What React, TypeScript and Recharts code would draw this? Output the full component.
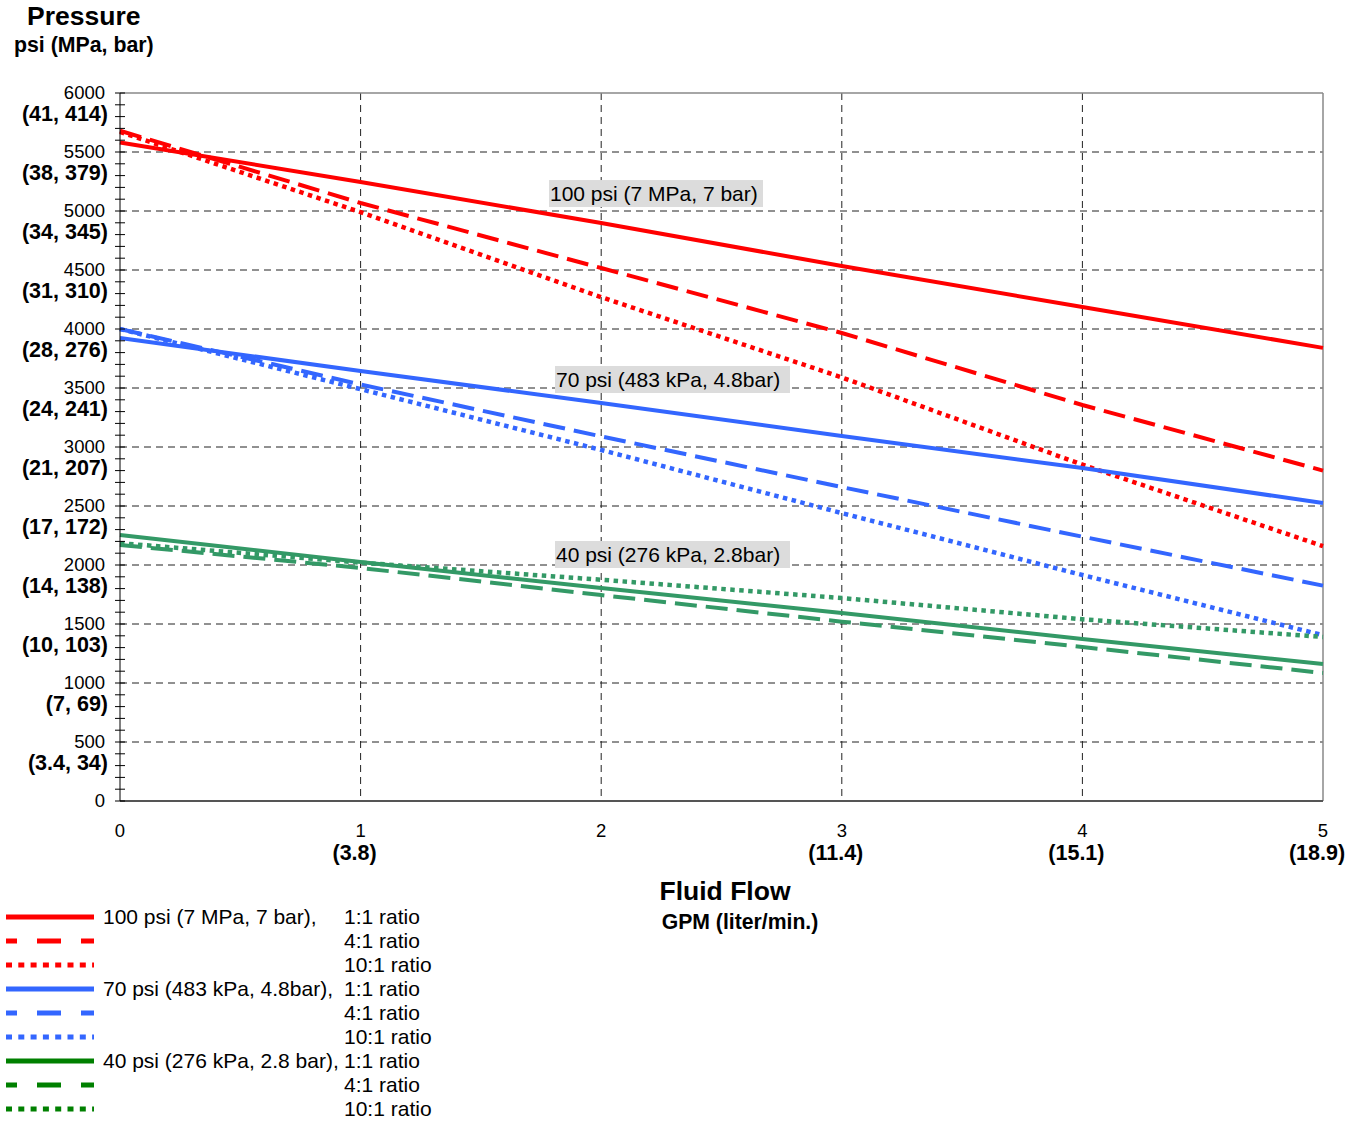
import React from 'react';
import {
  CartesianGrid,
  Line,
  LineChart,
  ReferenceDot,
  ReferenceLine,
  XAxis,
  YAxis,
} from 'recharts';

// fluid flow, GPM
const FLOW = [0, 1, 2, 3, 4, 5];

// pressure, psi
const RED_1_1 = [5580, 5246, 4898, 4534, 4186, 3840];
const RED_4_1 = [5680, 5068, 4517, 3966, 3356, 2800];
const RED_10_1 = [5670, 4990, 4270, 3590, 2850, 2160];
const BLUE_1_1 = [3924, 3644, 3373, 3093, 2822, 2525];
const BLUE_4_1 = [4000, 3530, 3090, 2660, 2240, 1825];
const BLUE_10_1 = [4000, 3490, 2975, 2440, 1915, 1405];
const GREEN_1_1 = [2254, 2025, 1805, 1593, 1373, 1161];
const GREEN_4_1 = [2170, 1975, 1745, 1520, 1305, 1085];
const GREEN_10_1 = [2185, 2020, 1875, 1720, 1540, 1390];

const Y_MAJOR = [0, 500, 1000, 1500, 2000, 2500, 3000, 3500, 4000, 4500, 5000, 5500, 6000];
const Y_METRIC = ['', '(3.4, 34)', '(7, 69)', '(10, 103)', '(14, 138)', '(17, 172)', '(21, 207)', '(24, 241)', '(28, 276)', '(31, 310)', '(34, 345)', '(38, 379)', '(41, 414)'];
const X_TICKS = [0, 1, 2, 3, 4, 5];
const X_METRIC = ['', '(3.8)', '', '(11.4)', '(15.1)', '(18.9)'];

const GROUP_LABELS = ['100 psi (7 MPa, 7 bar),', '70 psi (483 kPa, 4.8bar),', '40 psi (276 kPa, 2.8 bar),'];
const RATIO_LABELS = ['1:1 ratio', '4:1 ratio', '10:1 ratio'];

const NOTE_TEXT = ['100 psi (7 MPa, 7 bar)', '70 psi (483 kPa, 4.8bar)', '40 psi (276 kPa, 2.8bar)'];
const NOTE_FLOW = [1.783, 1.808, 1.808];
const NOTE_PSI = [5148, 3572, 2089];
const NOTE_W = [214, 235, 235];

const FONT = '"Liberation Sans", Arial, Helvetica, sans-serif';
const Y_MINOR = Array.from({ length: 61 }, (_, i) => i * 100);

const series = [
  { key: 'r1', values: RED_1_1, color: '#ff0000', legend: '#ff0000', style: 'solid' },
  { key: 'r4', values: RED_4_1, color: '#ff0000', legend: '#ff0000', style: 'dash' },
  { key: 'r10', values: RED_10_1, color: '#ff0000', legend: '#ff0000', style: 'dot' },
  { key: 'b1', values: BLUE_1_1, color: '#3366ff', legend: '#3366ff', style: 'solid' },
  { key: 'b4', values: BLUE_4_1, color: '#3366ff', legend: '#3366ff', style: 'dash' },
  { key: 'b10', values: BLUE_10_1, color: '#3366ff', legend: '#3366ff', style: 'dot' },
  { key: 'g1', values: GREEN_1_1, color: '#339966', legend: '#008000', style: 'solid' },
  { key: 'g4', values: GREEN_4_1, color: '#339966', legend: '#008000', style: 'dash' },
  { key: 'g10', values: GREEN_10_1, color: '#339966', legend: '#008000', style: 'dot' },
];

const dashes: Record<string, string | undefined> = { solid: undefined, dash: '22 9', dot: '4.5 4.5' };
const widths: Record<string, number> = { solid: 4, dash: 4, dot: 4.5 };

const data = FLOW.map((flow, i) => {
  const row: Record<string, number> = { flow };
  series.forEach((s) => {
    row[s.key] = s.values[i];
  });
  return row;
});

function YTick(props: any) {
  const { x, y, payload } = props;
  const v = payload.value as number;
  const idx = Y_MAJOR.indexOf(v);
  return (
    <g>
      <line x1={x - 5} x2={x + 5} y1={y} y2={y} stroke="#000" strokeWidth={1} />
      {idx >= 0 && (
        <>
          <text x={x - 15} y={y} dy="0.35em" textAnchor="end" fontSize={18.5} fill="#000" fontFamily={FONT}>
            {v}
          </text>
          {Y_METRIC[idx] && (
            <text x={x - 12} y={y + 20.5} dy="0.35em" textAnchor="end" fontSize={21.5} fontWeight="bold" fill="#000" fontFamily={FONT}>
              {Y_METRIC[idx]}
            </text>
          )}
        </>
      )}
    </g>
  );
}

function XTick(props: any) {
  const { x, y, payload } = props;
  const idx = X_TICKS.indexOf(payload.value);
  return (
    <g>
      <text x={x} y={y + 28} dy="0.35em" textAnchor="middle" fontSize={18.5} fill="#000" fontFamily={FONT}>
        {payload.value}
      </text>
      {X_METRIC[idx] && (
        <text x={x - 6} y={y + 49} dy="0.35em" textAnchor="middle" fontSize={21.5} fontWeight="bold" fill="#000" fontFamily={FONT}>
          {X_METRIC[idx]}
        </text>
      )}
    </g>
  );
}

function Note(i: number) {
  return (props: any) => {
    const { cx, cy } = props;
    return (
      <g>
        <rect x={cx} y={cy - 13.5} width={NOTE_W[i]} height={27} fill="#dcdcdc" />
        <text x={cx + 1} y={cy} dy="0.35em" fontSize={21} fill="#000" fontFamily={FONT}>
          {NOTE_TEXT[i]}
        </text>
      </g>
    );
  };
}

function LegendSwatch({ color, style }: { color: string; style: string }) {
  const dash = style === 'dash' ? '24 20' : style === 'dot' ? '6 6.3' : undefined;
  const offset = style === 'dash' ? 13 : 0;
  return (
    <svg width={90} height={8} style={{ position: 'absolute', left: 5, top: -4 }}>
      <line x1={1} x2={89} y1={4} y2={4} stroke={color} strokeWidth={5} strokeDasharray={dash} strokeDashoffset={offset} />
    </svg>
  );
}

export default function App() {
  return (
    <div style={{ position: 'absolute', left: 0, top: 0, width: 1355, height: 1125, background: '#fff', fontFamily: FONT }}>
      <div style={{ position: 'absolute', left: 27, top: 1, fontSize: 26.5, fontWeight: 'bold' }}>Pressure</div>
      <div style={{ position: 'absolute', left: 14, top: 33, fontSize: 21.3, fontWeight: 'bold' }}>psi (MPa, bar)</div>
      <div style={{ position: 'absolute', left: 560, width: 330, textAlign: 'center', top: 876, fontSize: 26.5, fontWeight: 'bold' }}>Fluid Flow</div>
      <div style={{ position: 'absolute', left: 575, width: 330, textAlign: 'center', top: 910, fontSize: 21.2, fontWeight: 'bold' }}>GPM (liter/min.)</div>

      <LineChart width={1355} height={1125} data={data} margin={{ top: 93, right: 32, bottom: 264, left: 10 }}>
        <CartesianGrid
          stroke="#222"
          strokeDasharray="7 5"
          horizontalValues={[500, 1000, 1500, 2000, 2500, 3000, 3500, 4000, 4500, 5000, 5500]}
          verticalValues={[1, 2, 3, 4]}
        />
        <XAxis
          dataKey="flow"
          type="number"
          domain={[0, 5]}
          ticks={X_TICKS}
          height={60}
          tickLine={false}
          tickSize={0}
          tick={<XTick />}
          axisLine={{ stroke: '#555', strokeWidth: 2 }}
        />
        <YAxis
          type="number"
          domain={[0, 6000]}
          ticks={Y_MINOR}
          interval={0}
          width={110}
          tickLine={false}
          tickSize={0}
          tickMargin={0}
          tick={<YTick />}
          axisLine={{ stroke: '#000', strokeWidth: 1 }}
        />
        <ReferenceLine y={6000} stroke="#888" strokeWidth={1.5} />
        <ReferenceLine x={5} stroke="#888" strokeWidth={1.5} />
        {series.map((s) => (
          <Line
            key={s.key}
            dataKey={s.key}
            type="linear"
            stroke={s.color}
            strokeWidth={widths[s.style]}
            strokeDasharray={dashes[s.style]}
            dot={false}
            activeDot={false}
            isAnimationActive={false}
          />
        ))}
        {NOTE_TEXT.map((t, i) => (
          <ReferenceDot key={t} x={NOTE_FLOW[i]} y={NOTE_PSI[i]} r={0} shape={Note(i)} />
        ))}
      </LineChart>

      {series.map((s, i) => (
        <div key={s.key} style={{ position: 'absolute', left: 0, top: 917 + i * 24, height: 0 }}>
          <LegendSwatch color={s.legend} style={s.style} />
          {i % 3 === 0 && (
            <div style={{ position: 'absolute', left: 103, top: -12, fontSize: 21, whiteSpace: 'nowrap', lineHeight: '24px' }}>
              {GROUP_LABELS[i / 3]}
            </div>
          )}
          <div style={{ position: 'absolute', left: 344, top: -12, fontSize: 21, whiteSpace: 'nowrap', lineHeight: '24px' }}>
            {RATIO_LABELS[i % 3]}
          </div>
        </div>
      ))}
    </div>
  );
}
